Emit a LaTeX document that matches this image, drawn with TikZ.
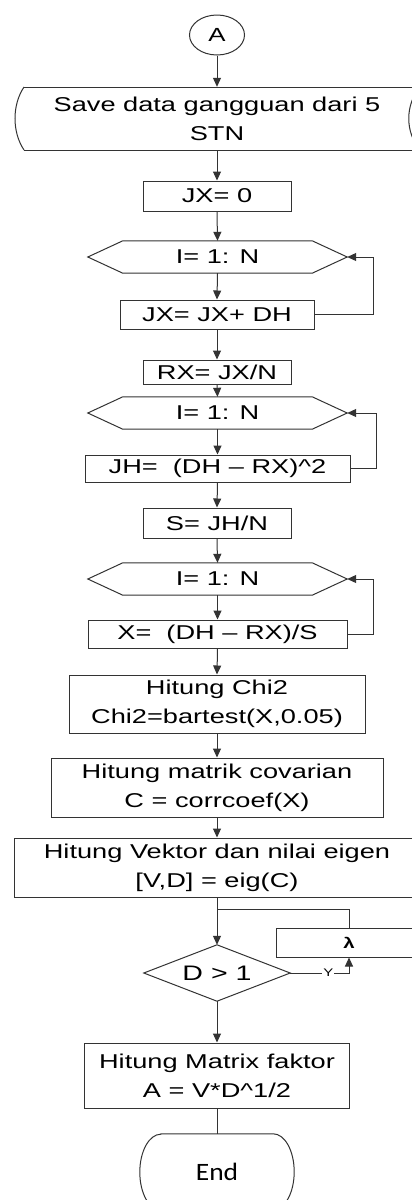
\documentclass[tikz,border=0pt]{standalone}
\usepackage{fontspec}
\setmainfont{Liberation Sans}[FakeStretch=1.36]
\newfontfamily\endfont{Carlito}[FakeStretch=1.1]
\usetikzlibrary{arrows.meta,shapes.geometric,calc}
\newcommand\hexpath[1]{\draw[ln] (#1.west) -- ([xshift=35pt]#1.north west) -- ([xshift=-35pt]#1.north east) -- (#1.east) -- ([xshift=-35pt]#1.south east) -- ([xshift=35pt]#1.south west) -- cycle;}
\begin{document}
\begin{tikzpicture}[x=1pt,y=-1pt,
  every node/.style={inner sep=0pt, font=\fontsize{20}{29}\selectfont},
  ln/.style={draw=black!80, line width=1pt},
  arr/.style={ln, -{Triangle[length=9pt,width=8pt]}},
  proc/.style={ln, rectangle, align=center},
  hexb/.style={minimum width=259pt, minimum height=32pt},
]
\clip (0,0) rectangle (412,1200);
\fill[white] (0,0) rectangle (412,1200);

% start connector
\node[ln, ellipse, minimum width=55pt, minimum height=40pt, font=\fontsize{19}{20}\selectfont] (A) at (217,35) {A};

% stored data shape
\node[align=center, minimum height=63pt] (save) at (217,118.5) {Save data gangguan dari 5\\STN};
\draw[ln] (24,87) -- (425,87) (24,150) -- (425,150);
\draw[ln] (24,87) .. controls (12,105) and (12,132) .. (24,150);
\draw[ln] (420,87) .. controls (405,105) and (405,132) .. (420,150);

\node[proc, minimum width=148pt, minimum height=30pt] (jx0) at (217,196) {JX= 0};
\node[hexb] (h1) at (217.5,257) {I= 1: N};
\hexpath{h1}
\node[proc, minimum width=194pt, minimum height=29pt] (b1) at (217,314.5) {JX= JX+ DH};
\node[proc, minimum width=148pt, minimum height=24pt] (rx) at (217,372) {RX= JX/N};
\node[hexb] (h2) at (217.5,413) {I= 1: N};
\hexpath{h2}
\node[proc, minimum width=265pt, minimum height=27pt] (jh) at (217.5,468.5) {JH=\ \ (DH -- RX)\textasciicircum 2};
\node[proc, minimum width=148pt, minimum height=30pt] (s) at (217,523) {S= JH/N};
\node[hexb] (h3) at (217.5,579) {I= 1: N};
\hexpath{h3}
\node[proc, minimum width=259pt, minimum height=28pt] (xb) at (217.5,634) {X=\ \ (DH -- RX)/S};
\node[proc, minimum width=296pt, minimum height=58pt] (chi) at (217,704) {Hitung Chi2\\Chi2=bartest(X,0.05)};
\node[proc, minimum width=332pt, minimum height=59pt] (cov) at (217,787.5) {Hitung matrik covarian\\C = corrcoef(X)};
\node[proc, minimum width=406pt, minimum height=59pt] (vek) at (217,867.5) {Hitung Vektor dan nilai eigen\\{}[V,D] = eig(C)};
\node[proc, minimum width=146pt, minimum height=29pt, font=\bfseries\fontsize{15}{16}\selectfont] (lam) at (349,942.5) {λ};
\coordinate (j) at (217,909);
\node[minimum width=146pt, minimum height=56pt, font=\fontsize{21}{24}\selectfont] (dec) at (217,973) {D > 1};
\draw[ln] (dec.north) -- (dec.east) -- (dec.south) -- (dec.west) -- cycle;
\node[proc, minimum width=265pt, minimum height=65pt] (mat) at (217,1075.5) {Hitung Matrix faktor\\A = V*D\textasciicircum 1/2};
\node[minimum width=154pt, minimum height=76pt, font=\endfont\fontsize{25}{28}\selectfont] (end) at (217,1172) {End};
\draw[ln] ($(end.north west)+(21,0)$) -- ($(end.north east)+(-21,0)$) arc[start angle=90, end angle=-90, x radius=21pt, y radius=38pt] -- ($(end.south west)+(21,0)$) arc[start angle=270, end angle=90, x radius=21pt, y radius=38pt] -- cycle;

% connectors
\draw[arr] (A.south) -- (save.north);
\draw[arr] (save.south) -- (jx0.north);
\draw[arr] (jx0.south) -- (h1.north);
\draw[arr] (h1.south) -- (b1.north);
\draw[arr] (b1.east) -- ++(59,0) |- (h1.east);
\draw[arr] (b1.south) -- (rx.north);
\draw[arr] (rx.south) -- (h2.north);
\draw[arr] (h2.south) -- (jh.north);
\draw[arr] (jh.east) -- ++(26,0) |- (h2.east);
\draw[arr] (jh.south) -- (s.north);
\draw[arr] (s.south) -- (h3.north);
\draw[arr] (h3.south) -- (xb.north);
\draw[arr] (xb.east) -- ++(26,0) |- (h3.east);
\draw[arr] (xb.south) -- (chi.north);
\draw[arr] (chi.south) -- (cov.north);
\draw[arr] (cov.south) -- (vek.north);
\draw[arr] (vek.south) -- (dec.north);
\draw[ln] (lam.north) |- (j);
\draw[arr] (dec.east) -- node[pos=0.65, fill=white, inner sep=1pt, font=\fontsize{11}{12}\selectfont] {Y} (dec.east -| lam.south) -- (lam.south);
\draw[arr] (dec.south) -- (mat.north);
\draw[ln] (mat.south) -- (end.north);
\end{tikzpicture}
\end{document}
